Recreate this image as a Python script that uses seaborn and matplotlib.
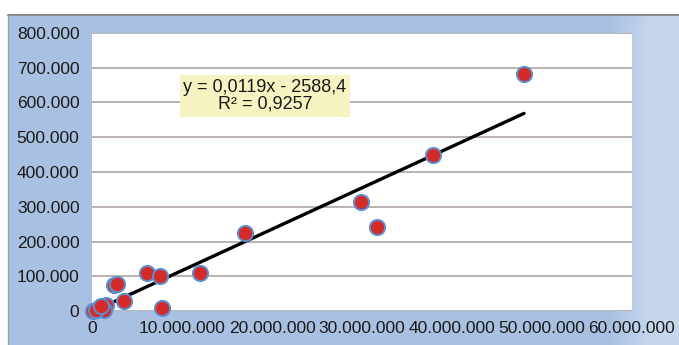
import numpy as np
import pandas as pd
import matplotlib
matplotlib.use("Agg")
import matplotlib.pyplot as plt
import seaborn as sns
from matplotlib.lines import Line2D

# ---- data ----
x_values = [48.0e6, 37.9e6, 29.9e6, 31.7e6, 17.0e6, 12.0e6, 6.1e6, 7.6e6, 7.8e6,
            2.4e6, 2.8e6, 3.6e6, 0.1e6, 0.8e6, 1.6e6, 1.3e6, 0.4e6, 1.0e6]
y_values = [683e3, 450e3, 313e3, 241e3, 224e3, 109e3, 109e3, 101e3, 8e3,
            74e3, 79e3, 29e3, 0, 10e3, 18e3, 3e3, 4e3, 14e3]
trend_slope = 0.0119
trend_intercept = -2588.4
equation_text = "y = 0,0119x - 2588,4"
r2_text = "R² = 0,9257"
x_ticks = [0, 10e6, 20e6, 30e6, 40e6, 50e6, 60e6]
x_tick_labels = ["0", "10.000.000", "20.000.000", "30.000.000", "40.000.000",
                 "50.000.000", "60.000.000"]
y_ticks = [0, 100e3, 200e3, 300e3, 400e3, 500e3, 600e3, 700e3, 800e3]
y_tick_labels = ["0", "100.000", "200.000", "300.000", "400.000", "500.000",
                 "600.000", "700.000", "800.000"]

df = pd.DataFrame({"x": x_values, "y": y_values})
trend_x = [0, max(x_values)]
trend_df = pd.DataFrame({"x": trend_x,
                         "y": [trend_slope * v + trend_intercept for v in trend_x]})

sns.set_theme(style="white")
plt.rcParams["font.family"] = ["Liberation Sans", "DejaVu Sans"]

W, H = 679, 345
fig = plt.figure(figsize=(W / 100, H / 100), dpi=100)
fig.patch.set_facecolor("white")

# background panel with gradient
bg = fig.add_axes([8 / W, 0, 1 - 8 / W, 1 - 15 / H])
bg.set_axis_off()
grad = np.linspace(0, 1, 256)
c_left = np.array([0.66, 0.76, 0.89])
c_right = np.array([0.78, 0.84, 0.93])
img = np.zeros((2, 256, 3))
for i, t in enumerate(grad):
    w = min(1.0, max(0.0, (t - 0.90) / 0.06))
    img[:, i, :] = c_left * (1 - w) + c_right * w
bg.imshow(img, aspect="auto", extent=[0, 1, 0, 1])
bg.set_xlim(0, 1)
bg.set_ylim(0, 1)
fig.add_artist(Line2D([8 / W, 1], [1 - 15 / H, 1 - 15 / H], transform=fig.transFigure,
                      color="#8c8c8c", lw=1.5))
fig.add_artist(Line2D([8 / W, 8 / W], [0, 1 - 15 / H], transform=fig.transFigure,
                      color="#a0a0a0", lw=1.0))

left, right, top, bottom = 92, 632, 33, 311
ax = fig.add_axes([left / W, 1 - bottom / H, (right - left) / W, (bottom - top) / H])
ax.set_facecolor("white")

for yt in y_ticks:
    ax.axhline(yt, color="#a89c9c", lw=1.1, zorder=0)

sns.lineplot(data=trend_df, x="x", y="y", ax=ax, color="black", lw=2.4, zorder=3)
sns.scatterplot(data=df, x="x", y="y", ax=ax, s=120, color="#d42a2a",
                edgecolor="#5b8fd0", linewidth=1.4, zorder=4, clip_on=False)

ax.set_xlim(0, 60e6)
ax.set_ylim(0, 800e3)
ax.set_xticks(x_ticks)
ax.set_xticklabels(x_tick_labels)
ax.set_yticks(y_ticks)
ax.set_yticklabels(y_tick_labels)
ax.tick_params(axis="both", length=0, labelsize=12.5, colors="#1a1a1a")
ax.tick_params(axis="x", pad=7)
ax.tick_params(axis="y", pad=9)
ax.set_xlabel("")
ax.set_ylabel("")
for s in ax.spines.values():
    s.set_visible(False)

# equation box
ax.text(19.2e6, 619e3, equation_text + "\n" + r2_text, ha="center", va="center",
        fontsize=13, color="#1a1a1a", linespacing=1.0, multialignment="center",
        bbox=dict(boxstyle="square,pad=0.2", facecolor="#f6f3c3", edgecolor="none"),
        zorder=5)

fig.savefig("out.png", dpi=100)
